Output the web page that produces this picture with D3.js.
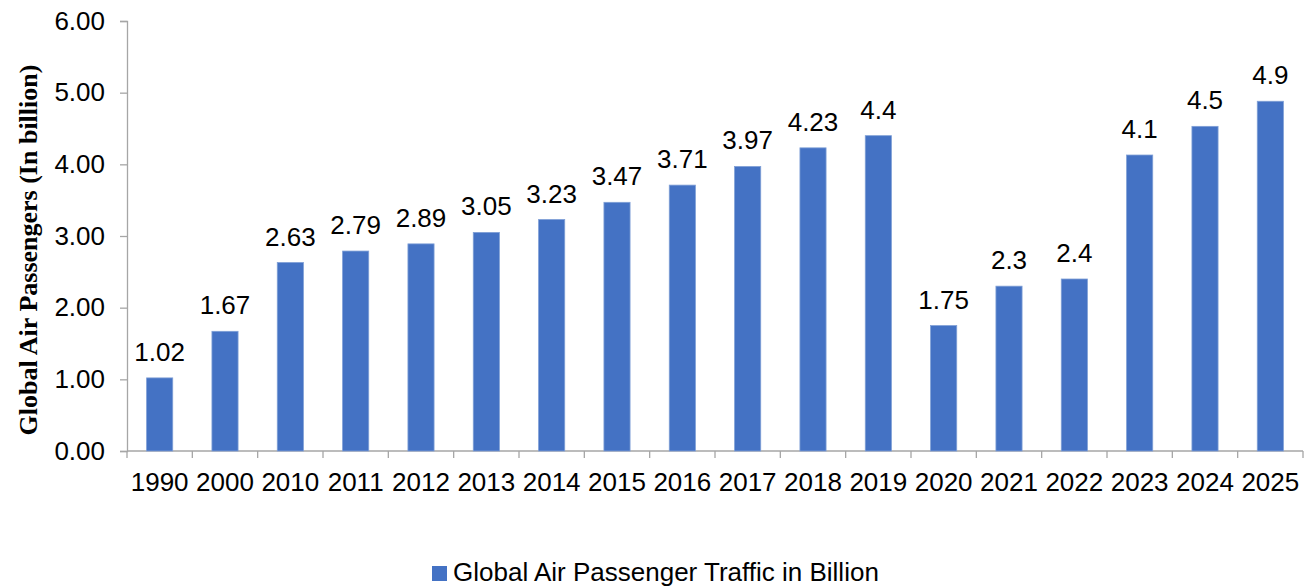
<!DOCTYPE html>
<html>
<head>
<meta charset="utf-8">
<script src="https://cdn.jsdelivr.net/npm/d3@7"></script>
<style>
  body { margin: 0; background: #fff; }
  svg { display: block; font-family: "Liberation Sans", Arial, sans-serif; }
</style>
</head>
<body>
<svg width="1312" height="586"></svg>
<script>
var years = ["1990", "2000", "2010", "2011", "2012", "2013", "2014", "2015", "2016",
             "2017", "2018", "2019", "2020", "2021", "2022", "2023", "2024", "2025"];
var passengers = [1.02, 1.67, 2.63, 2.79, 2.89, 3.05, 3.23, 3.47, 3.71,
                  3.97, 4.23, 4.4, 1.75, 2.3, 2.4, 4.13, 4.53, 4.88];
var valueLabels = ["1.02", "1.67", "2.63", "2.79", "2.89", "3.05", "3.23", "3.47", "3.71",
                   "3.97", "4.23", "4.4", "1.75", "2.3", "2.4", "4.1", "4.5", "4.9"];
var yTicks = [0, 1, 2, 3, 4, 5, 6];
var seriesName = "Global Air Passenger Traffic in Billion";
var yTitle = "Global Air Passengers (In billion)";

var svg = d3.select("svg"),
    margin = {top: 21, right: 9, bottom: 135, left: 127},
    width = 1312 - margin.left - margin.right,
    height = 586 - margin.top - margin.bottom;

var data = years.map(function(y, i) { return {year: y, value: passengers[i], label: valueLabels[i]}; });

var x = d3.scaleBand().domain(years).range([0, width]).paddingInner(0.6).paddingOuter(0.3);
var y = d3.scaleLinear().domain([0, 6]).range([height, 0]);

var g = svg.append("g")
    .attr("transform", "translate(" + margin.left + "," + margin.top + ")");

var axisColor = "#a6a6a6";
var fs = 26;

// y axis
var yAxis = g.append("g")
    .call(d3.axisLeft(y).tickValues(yTicks).tickFormat(d3.format(".2f")).tickSize(7).tickPadding(15));
yAxis.select(".domain").attr("stroke", axisColor).attr("stroke-width", 1.3);
yAxis.selectAll(".tick line").attr("stroke", axisColor).attr("stroke-width", 1.3);
yAxis.selectAll(".tick text").attr("font-size", fs).attr("fill", "#000")
    .attr("font-family", "Liberation Sans, Arial, sans-serif");

// x axis: ticks between categories
var xg = g.append("g").attr("transform", "translate(0," + height + ")");
xg.append("line").attr("x1", 0).attr("x2", width).attr("stroke", axisColor).attr("stroke-width", 1.3);
var step = x.step();
xg.selectAll(".sep")
    .data(d3.range(years.length + 1))
  .enter().append("line")
    .attr("x1", function(i) { return i * step; })
    .attr("x2", function(i) { return i * step; })
    .attr("y1", 0).attr("y2", 7)
    .attr("stroke", axisColor).attr("stroke-width", 1.3);
xg.selectAll(".lbl")
    .data(years)
  .enter().append("text")
    .attr("x", function(d) { return x(d) + x.bandwidth() / 2; })
    .attr("y", 40)
    .attr("text-anchor", "middle")
    .attr("font-size", fs)
    .text(function(d) { return d; });

// bars
g.selectAll(".bar")
    .data(data)
  .enter().append("rect")
    .attr("class", "bar")
    .attr("x", function(d) { return x(d.year); })
    .attr("width", x.bandwidth())
    .attr("y", function(d) { return y(d.value); })
    .attr("height", function(d) { return height - y(d.value); })
    .attr("fill", "#4472c4")
    .attr("stroke", "#7f9fd6")
    .attr("stroke-width", 0.8);

// value labels
g.selectAll(".val")
    .data(data)
  .enter().append("text")
    .attr("x", function(d) { return x(d.year) + x.bandwidth() / 2; })
    .attr("y", function(d) { return y(d.value) - 17; })
    .attr("text-anchor", "middle")
    .attr("font-size", fs)
    .text(function(d) { return d.label; });

// y title
svg.append("text")
    .attr("transform", "translate(37,250) rotate(-90)")
    .attr("text-anchor", "middle")
    .attr("font-family", "Liberation Serif, Times New Roman, serif")
    .attr("font-weight", "bold")
    .attr("font-size", 26)
    .text(yTitle);

// legend
var legend = svg.append("g").attr("transform", "translate(432,566)");
legend.append("rect").attr("width", 15).attr("height", 15).attr("fill", "#4472c4");
legend.append("text").attr("x", 21).attr("y", 15).attr("font-size", fs).text(seriesName);
</script>
</body>
</html>
